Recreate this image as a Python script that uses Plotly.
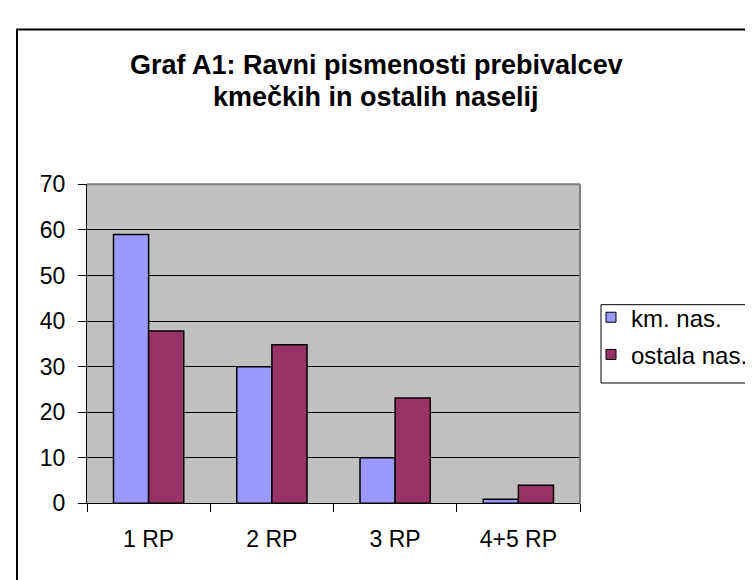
import plotly.graph_objects as go

categories = ["1 RP", "2 RP", "3 RP", "4+5 RP"]
km_nas = [59.0, 30.0, 10.0, 0.9]
ostala_nas = [37.8, 34.8, 23.1, 4.0]
series_names = ["km. nas.", "ostala nas."]
series_colors = ["#9999FF", "#993366"]
title_lines = ["Graf A1: Ravni pismenosti prebivalcev", "kmečkih in ostalih naselij"]

W, H = 753, 580
FONT = "Arial, 'Liberation Sans', sans-serif"

def px_x(x):
    return x / W

def px_y(y):
    return 1 - y / H

fig = go.Figure()
for vals, name, col in zip([km_nas, ostala_nas], series_names, series_colors):
    fig.add_trace(go.Bar(x=categories, y=vals, name=name, showlegend=False,
                         marker=dict(color=col, line=dict(color="black", width=1.5))))
# legend entries with small square swatches
for i, (name, col) in enumerate(zip(series_names, series_colors)):
    fig.add_trace(go.Scatter(x=[None], y=[None], mode="markers", name=name,
                             legendgroup=str(i),
                             marker=dict(symbol="square", size=10, color=col,
                                         line=dict(color="black", width=1))))

fig.update_layout(
    width=W, height=H, autosize=False,
    margin=dict(l=0, r=0, t=0, b=0),
    paper_bgcolor="white", plot_bgcolor="#C0C0C0",
    barmode="group", bargap=0.43, bargroupgap=0,
    font=dict(family=FONT, color="black", size=23),
    showlegend=True,
    legend=dict(x=px_x(583), y=px_y(287), xanchor="left", yanchor="top",
                borderwidth=0, bgcolor="rgba(0,0,0,0)",
                font=dict(size=24, family=FONT), tracegroupgap=3,
                itemwidth=30),
    xaxis=dict(domain=[px_x(79), px_x(572)], showline=True, linecolor="black", linewidth=1,
               ticks="outside", ticklen=8, tickcolor="black", tickson="boundaries",
               tickfont=dict(size=23), showgrid=False, fixedrange=True,
               ticklabelstandoff=15),
    yaxis=dict(domain=[px_y(505), px_y(171)], range=[0, 70], dtick=10,
               showline=True, linecolor="black", linewidth=1,
               ticks="outside", ticklen=8, tickcolor="black",
               showgrid=True, gridcolor="black", gridwidth=1,
               zeroline=False, tickfont=dict(size=23), ticklabelstandoff=8),
    annotations=[
        dict(text="<b>" + title_lines[0] + "</b>",
             x=px_x(368), y=px_y(46), xref="paper", yref="paper",
             xanchor="center", yanchor="middle", showarrow=False,
             font=dict(size=27, family=FONT, color="black")),
        dict(text="<b>" + title_lines[1] + "</b>",
             x=px_x(368), y=px_y(80), xref="paper", yref="paper",
             xanchor="center", yanchor="middle", showarrow=False,
             font=dict(size=27, family=FONT, color="black")),
    ],
    shapes=[
        dict(type="rect", xref="paper", yref="paper",
             x0=px_x(9), x1=1.05, y0=-0.05, y1=px_y(9),
             line=dict(color="black", width=2), fillcolor="rgba(0,0,0,0)"),
        dict(type="rect", xref="paper", yref="paper",
             x0=px_x(593), x1=1.05, y0=px_y(379), y1=px_y(297),
             line=dict(color="black", width=1), fillcolor="white", layer="below"),
        dict(type="line", xref="x domain", yref="y domain", x0=0, x1=1, y0=1, y1=1,
             line=dict(color="#808080", width=2)),
        dict(type="line", xref="x domain", yref="y domain", x0=1, x1=1, y0=0, y1=1,
             line=dict(color="#808080", width=2)),
    ],
)

fig.write_html("out.html")
